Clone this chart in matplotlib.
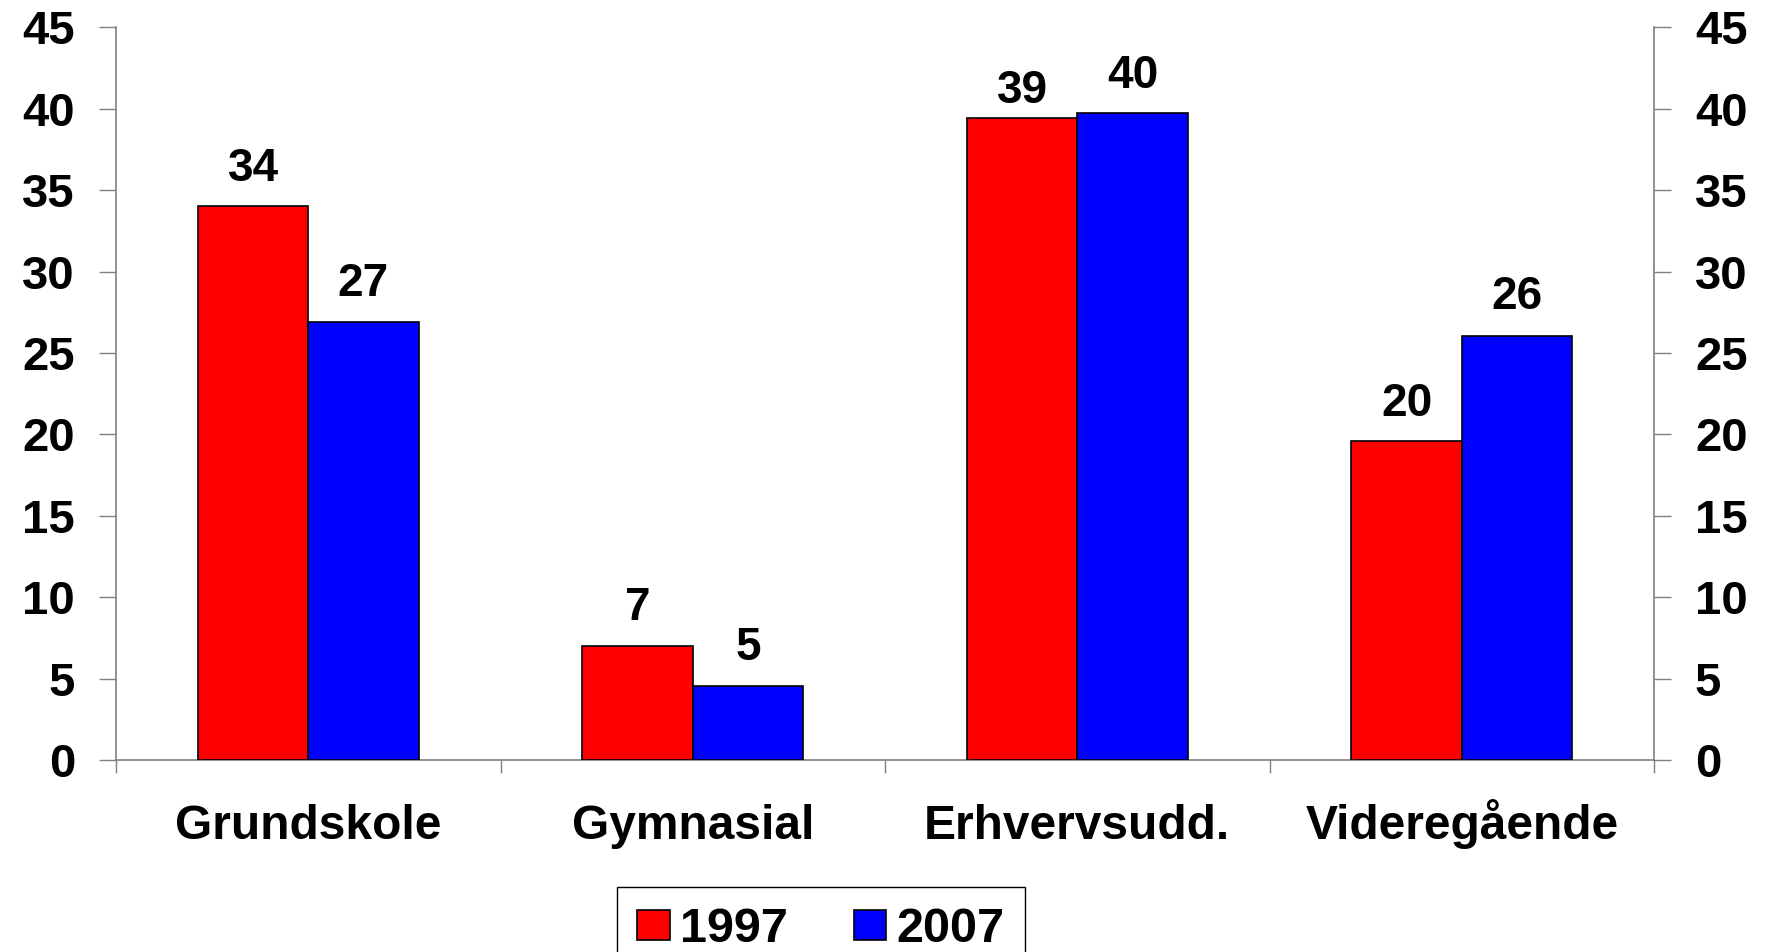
import matplotlib
matplotlib.use("Agg")
import matplotlib.pyplot as plt
import numpy as np

categories = ["Grundskole", "Gymnasial", "Erhvervsudd.", "Videregående"]
values_1997 = [34.0, 7.0, 39.4, 19.6]
values_2007 = [26.9, 4.55, 39.75, 26.05]
series_names = ["1997", "2007"]
yticks = [0, 5, 10, 15, 20, 25, 30, 35, 40, 45]

plt.rcParams['font.family'] = ['Liberation Sans', 'DejaVu Sans']
plt.rcParams['font.weight'] = 'bold'

W, H = 1767, 952
DPI = 100
fig = plt.figure(figsize=(W / DPI, H / DPI), dpi=DPI)
ax = fig.add_axes([116 / W, 1 - 760 / H, (1654 - 116) / W, (760 - 27.3) / H])

x = np.arange(len(categories))
bw = 0.287
spine_c = '#7f7f7f'

b1 = ax.bar(x - bw / 2, values_1997, bw, color='#FF0000', edgecolor='black',
            linewidth=1.2, label=series_names[0], zorder=3)
b2 = ax.bar(x + bw / 2, values_2007, bw, color='#0000FF', edgecolor='black',
            linewidth=1.2, label=series_names[1], zorder=3)

# label offset above bar top (points); the Erhvervsudd. 1997 label sits lower
offsets = [[18.5, 18.5, 11.0, 18.0], [19.0, 19.0, 18.0, 19.0]]
for si, (cont, vals) in enumerate(((b1, values_1997), (b2, values_2007))):
    for ci, (rect, v) in enumerate(zip(cont, vals)):
        ax.annotate(f"{v:.0f}", (rect.get_x() + rect.get_width() / 2, rect.get_height()),
                    xytext=(0, offsets[si][ci]), textcoords='offset points', ha='center',
                    va='baseline', fontsize=33, fontweight='bold', color='black')

ax.set_xlim(-0.5, len(categories) - 0.5)
ax.set_ylim(0, 45)

ax.set_yticks(yticks)
ax.set_yticklabels([str(t) for t in yticks])
ax.tick_params(axis='y', which='major', direction='out', length=12.5, width=1,
               color=spine_c, pad=17, labelsize=34, left=True, right=True,
               labelleft=True, labelright=True)

ax.set_xticks(x)
ax.set_xticklabels(categories)
ax.tick_params(axis='x', which='major', length=0, pad=57, labelsize=34.5)
for lab in ax.get_xticklabels():
    lab.set_verticalalignment('baseline')
ax.set_xticks(np.arange(-0.5, len(categories), 1.0), minor=True)
ax.tick_params(axis='x', which='minor', length=9.5, width=1, color=spine_c, direction='out')

for lab in ax.get_xticklabels() + ax.get_yticklabels():
    lab.set_fontweight('bold')

for s in ('left', 'right', 'bottom'):
    ax.spines[s].set_color(spine_c)
    ax.spines[s].set_linewidth(1.2)
ax.spines['top'].set_visible(False)

leg = fig.legend(handles=[b1, b2], labels=series_names, loc='upper left',
                 bbox_to_anchor=(617 / W, 1 - 887 / H), bbox_transform=fig.transFigure,
                 ncol=2, frameon=True, fancybox=False, shadow=False,
                 borderaxespad=0, borderpad=0.42, handlelength=0.66, handleheight=0.58,
                 handletextpad=0.22, columnspacing=1.35,
                 prop={'family': ['Liberation Sans', 'DejaVu Sans'], 'weight': 'bold', 'size': 35})
leg.get_frame().set_edgecolor('black')
leg.get_frame().set_linewidth(1.0)
leg.get_frame().set_alpha(1)

fig.savefig("out.png", dpi=DPI)
